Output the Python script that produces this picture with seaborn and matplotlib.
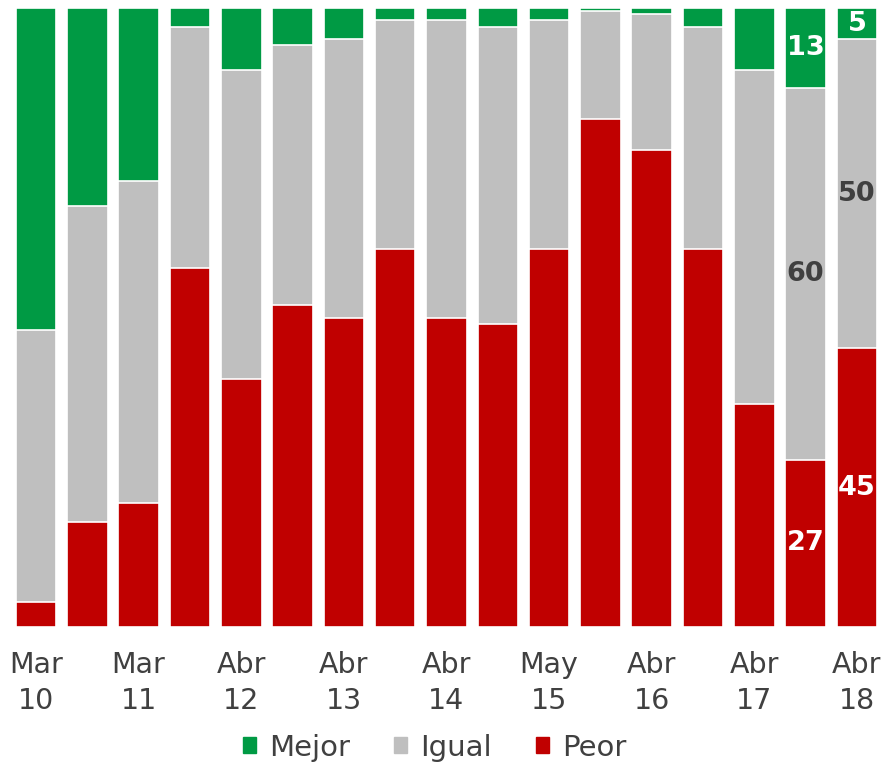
# Stacked 100% bars: Mejor / Igual / Peor by survey wave

import numpy as np
import pandas as pd
import seaborn as sb
from matplotlib import pyplot as plt
from matplotlib.patches import Patch

# Data

waves = ['Mar 10', '', 'Mar 11', '', 'Abr 12', '', 'Abr 13', '', 'Abr 14', '',
         'May 15', '', 'Abr 16', '', 'Abr 17', '', 'Abr 18']
peor = [4, 17, 20, 58, 40, 52, 50, 61, 50, 49, 61, 82, 77, 61, 36, 27, 45]
igual = [44, 51, 52, 39, 50, 42, 45, 37, 48, 48, 37, 17.5, 22, 36, 54, 60, 50]
mejor = [52, 32, 28, 3, 10, 6, 5, 2, 2, 3, 2, 0.5, 1, 3, 10, 13, 5]
labelled = [15, 16]  # bars with value labels

green = '#009A44'
grey = '#BFBFBF'
red = '#C00000'

df = pd.DataFrame({'x': range(len(waves)), 'peor': peor, 'igual': igual, 'mejor': mejor})
df['top_igual'] = df.peor + df.igual
df['top_mejor'] = df.top_igual + df.mejor

sb.set_style('white')
plt.rcParams['font.family'] = ['DejaVu Sans']

fig = plt.figure(figsize=(8.87, 7.65), dpi=100)
ax = fig.add_axes([0.0117, 0.1804, 0.9833, 0.8091])

# Draw tallest first so the shorter layers sit on top
for col, c in [('top_mejor', green), ('top_igual', grey), ('peor', red)]:
    sb.barplot(data=df, x='x', y=col, color=c, width=0.79, ax=ax,
               edgecolor='white', linewidth=1.2, saturation=1)

# Value labels on last two bars
for i in labelled:
    ax.text(i, df.peor[i] / 2, str(peor[i]), ha='center', va='center',
            color='white', fontsize=19.5, fontweight='bold')
    ax.text(i, df.peor[i] + df.igual[i] / 2, str(int(igual[i])), ha='center', va='center',
            color='#404040', fontsize=19.5, fontweight='bold')
    ax.text(i, df.top_igual[i] + df.mejor[i] / 2, str(int(mejor[i])), ha='center', va='center',
            color='white', fontsize=19.5, fontweight='bold')

ax.set_xlim(-0.5, len(waves) - 0.5)
ax.set_ylim(0, 100)
ax.set_xticks(range(len(waves)))
ax.set_xticklabels([w.replace(' ', '\n') for w in waves], fontsize=20.5, color='#404040',
                   linespacing=1.4)
ax.tick_params(axis='x', length=0, pad=17)
ax.set_yticks([])
ax.set_xlabel('')
ax.set_ylabel('')
sb.despine(ax=ax, left=True, bottom=True)

handles = [Patch(color=green, label='Mejor'), Patch(color=grey, label='Igual'),
           Patch(color=red, label='Peor')]
fig.legend(handles=handles, loc='lower center', bbox_to_anchor=(0.49, -0.03), ncol=3,
           frameon=False, fontsize=21, handlelength=0.45, handleheight=0.45,
           handletextpad=0.45, columnspacing=1.5, labelcolor='#404040')

plt.savefig('out.png', dpi=100)
